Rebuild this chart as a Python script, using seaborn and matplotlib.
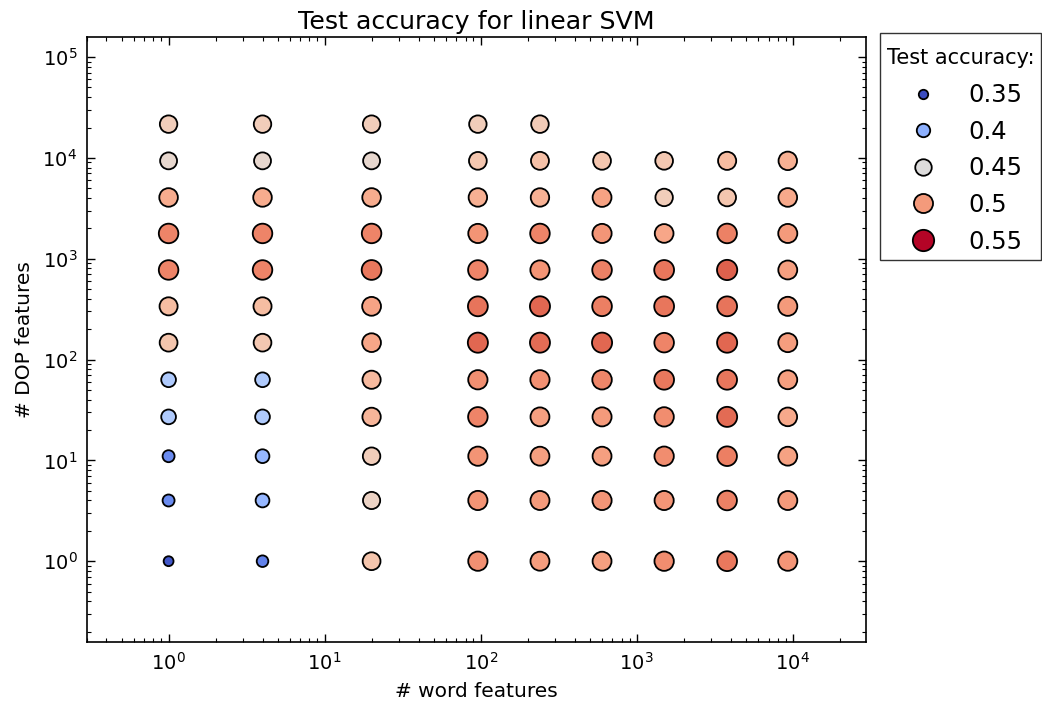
import numpy as np
import pandas as pd
import matplotlib
matplotlib.use("Agg")
import matplotlib.pyplot as plt
from matplotlib.lines import Line2D
import seaborn as sns

# ---- data -------------------------------------------------------------
word_features = [1, 4, 20, 96, 240, 600, 1500, 3800, 9300]
dop_features = [21600, 9340, 4050, 1780, 773, 337, 147, 63, 27, 11, 4, 1]

# accuracy per word-feature column, rows ordered as dop_features (None = missing)
acc_w1    = [0.468, 0.458, 0.490, 0.510, 0.510, 0.480, 0.475, 0.420, 0.420, 0.380, 0.380, 0.355]
acc_w4    = [0.468, 0.458, 0.490, 0.510, 0.510, 0.480, 0.473, 0.420, 0.420, 0.405, 0.405, 0.375]
acc_w20   = [0.468, 0.458, 0.490, 0.510, 0.515, 0.495, 0.493, 0.482, 0.485, 0.468, 0.463, 0.475]
acc_w96   = [0.468, 0.474, 0.488, 0.503, 0.510, 0.517, 0.522, 0.505, 0.510, 0.503, 0.503, 0.504]
acc_w240  = [0.470, 0.478, 0.487, 0.510, 0.503, 0.522, 0.520, 0.504, 0.497, 0.497, 0.500, 0.498]
acc_w600  = [None,  0.474, 0.496, 0.502, 0.511, 0.512, 0.522, 0.509, 0.500, 0.497, 0.502, 0.497]
acc_w1500 = [None,  0.472, 0.468, 0.493, 0.516, 0.516, 0.510, 0.515, 0.506, 0.506, 0.502, 0.506]
acc_w3800 = [None,  0.481, 0.474, 0.511, 0.525, 0.517, 0.522, 0.516, 0.521, 0.512, 0.511, 0.515]
acc_w9300 = [None,  0.488, 0.492, 0.500, 0.497, 0.500, 0.498, 0.497, 0.492, 0.496, 0.500, 0.502]

accuracy_columns = [acc_w1, acc_w4, acc_w20, acc_w96, acc_w240,
                    acc_w600, acc_w1500, acc_w3800, acc_w9300]

legend_values = [0.35, 0.4, 0.45, 0.5, 0.55]
legend_labels = ["0.35", "0.4", "0.45", "0.5", "0.55"]

title = "Test accuracy for linear SVM"
xlabel = "# word features"
ylabel = "# DOP features"
legend_title = "Test accuracy:"

# ---- build table --------------------------------------------------------
rows = []
for w, col in zip(word_features, accuracy_columns):
    for d, a in zip(dop_features, col):
        if a is not None:
            rows.append({"word": w, "dop": d, "acc": a})
df = pd.DataFrame(rows)

# ---- style --------------------------------------------------------------
sns.set_style("white")
plt.rcParams["font.family"] = ["DejaVu Sans"]
plt.rcParams["mathtext.fontset"] = "dejavusans"
plt.rcParams["text.color"] = "black"
plt.rcParams["axes.labelcolor"] = "black"
plt.rcParams["xtick.color"] = "black"
plt.rcParams["ytick.color"] = "black"

vmin, vmax = 0.35, 0.55
smin, smax = 46, 236
cmap = plt.get_cmap("coolwarm")
norm = matplotlib.colors.Normalize(vmin, vmax)

fig = plt.figure(figsize=(10.42, 7.04), dpi=100)
ax = fig.add_axes([87 / 1042, 1 - 642 / 704, (866 - 87) / 1042, (642 - 37) / 704])

sns.scatterplot(data=df, x="word", y="dop", hue="acc", size="acc",
                palette="coolwarm", hue_norm=(vmin, vmax),
                sizes=(smin, smax), size_norm=(vmin, vmax),
                edgecolor="black", linewidth=1.3, legend=False, ax=ax, zorder=3)

ax.set_xscale("log")
ax.set_yscale("log")
ax.set_xlim(0.30, 29500)
ax.set_ylim(0.158, 158000)

ax.set_title(title, fontsize=18.2, pad=6, color="black")
ax.set_xlabel(xlabel, fontsize=14.5, labelpad=6)
ax.set_ylabel(ylabel, fontsize=14.5, labelpad=6)

for sp in ax.spines.values():
    sp.set_visible(True)
    sp.set_color("black")
    sp.set_linewidth(1.2)

ax.tick_params(which="both", direction="in", top=True, right=True,
               bottom=True, left=True, colors="black")
ax.tick_params(which="major", length=6, width=1.0, labelsize=14, pad=7)
ax.tick_params(which="minor", length=3, width=0.8)

# ---- legend -------------------------------------------------------------
def size_for(v):
    return smin + (v - vmin) / (vmax - vmin) * (smax - smin)

handles = [Line2D([], [], linestyle="none", marker="o",
                  markersize=np.sqrt(size_for(v)),
                  markerfacecolor=cmap(norm(v)), markeredgecolor="black",
                  markeredgewidth=1.3)
           for v in legend_values]
leg = ax.legend(handles, legend_labels, title=legend_title,
                loc="upper left", bbox_to_anchor=(1.018, 1.007),
                borderaxespad=0, frameon=True, fancybox=False,
                fontsize=17.5, title_fontsize=15, labelspacing=0.52,
                handletextpad=0.85, borderpad=0.28)
leg.get_frame().set_edgecolor("black")
leg.get_frame().set_linewidth(1.0)
leg.get_title().set_color("black")
leg.get_title().set_position((0, -8.6))
leg._legend_box.sep = 16.9
for t in leg.get_texts():
    t.set_color("black")

fig.savefig("out.png", dpi=100)
